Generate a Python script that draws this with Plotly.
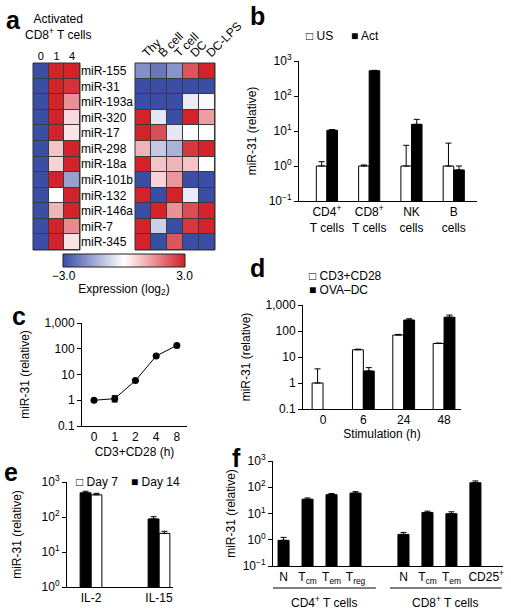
import numpy as np
import plotly.graph_objects as go

W, H = 511, 615
FONT = "Liberation Sans, Arial, Helvetica, sans-serif"


def px(x):
    return x / W


def py(y):
    return 1 - y / H


# ---------------- data ----------------
# panel a
mirnas = ["miR-155", "miR-31", "miR-193a", "miR-320", "miR-17", "miR-298",
          "miR-18a", "miR-101b", "miR-132", "miR-146a", "miR-7", "miR-345"]
act_times = ["0", "1", "4"]
cell_types = ["Thy", "B cell", "T cell", "DC", "DC-LPS"]
act_expr = [
    [-3, 3, 3],
    [-3, 3, 2.8],
    [-3, 3, 1.5],
    [-3, 3, 0.5],
    [-3, 3, 0.35],
    [-3, 0.8, 3],
    [-3, 0.6, 3],
    [-3, 3, -1.6],
    [-3, 0.0, 3],
    [-3, 1.0, 3],
    [-3, 3, 1.6],
    [-3, 3, 0.4],
]
cell_expr = [
    [-1.9, -2.3, -1.8, 2.3, 3],
    [-3, -3, -3, -3, -3],
    [-3, -3, -3, -0.3, -0.1],
    [3, -0.4, -3, 3, 1.3],
    [3, 2.4, -0.4, 0, 0],
    [1.0, -0.9, -1.3, 2.7, 3],
    [3, 0.8, 1.0, 0.8, 0],
    [-3, 0.6, 1.4, -3, -3],
    [3, -3, 3, -0.3, -3],
    [-3, 3, 1.5, 2.4, 3],
    [3, -0.8, -3, 2.7, 3],
    [3, -3, 2.3, -3, -3],
]

# panel b
b_cells = ["CD4<sup>+</sup><br>T cells", "CD8<sup>+</sup><br>T cells", "NK<br>cells", "B<br>cells"]
b_us = [1.0, 1.0, 1.0, 1.0]
b_us_err = [0.33, 0.07, 2.9, 3.5]
b_act = [10.5, 525, 15.5, 0.77]
b_act_err = [0.5, 15, 6, 0.23]

# panel c
c_hours = ["0", "1", "2", "4", "8"]
c_vals = [1.0, 1.15, 5.8, 52, 135]
c_err_plus = [0, 0.35, 0, 0, 0]
c_err_minus = [0, 0.3, 0, 0, 0]

# panel d
d_hours = ["0", "6", "24", "48"]
d_cd3 = [1.0, 19, 70, 33]
d_cd3_err = [2.5, 1.0, 4, 1.5]
d_ova = [None, 2.9, 265, 340]
d_ova_err = [0, 1.0, 30, 70]

# panel e
e_cyto = ["IL-2", "IL-15"]
e_day7 = [430, 34]
e_day7_err = [45, 5]
e_day14 = [490, 88]
e_day14_err = [55, 14]

# panel f
f_subsets = ["N", "T<sub>cm</sub>", "T<sub>em</sub>", "T<sub>reg</sub>",
             "N", "T<sub>cm</sub>", "T<sub>em</sub>", "CD25<sup>+</sup>"]
f_groups = ["CD4", "CD4", "CD4", "CD4", "CD8", "CD8", "CD8", "CD8"]
f_vals = [0.95, 35, 52, 60, 1.6, 11, 9.8, 148]
f_err = [0.28, 4, 6, 8, 0.3, 1.3, 1.8, 26]

log_ticks = [0.1, 1, 10, 100, 1000]
pow_text = ["10<sup>−1</sup>", "10<sup>0</sup>", "10<sup>1</sup>", "10<sup>2</sup>", "10<sup>3</sup>"]
dec_text = ["0.1", "1", "10", "100", "1,000"]

colorscale = [[0, "#3b4ea6"], [0.5, "#ffffff"], [1, "#d3222a"]]
WHITE_BAR = dict(color="white", line=dict(color="black", width=1))
BLACK_BAR = dict(color="black", line=dict(color="black", width=1))

fig = go.Figure()

# ---------------- panel a ----------------
fig.add_trace(go.Heatmap(z=act_expr, x=act_times, y=mirnas, colorscale=colorscale,
                         zmin=-3, zmax=3, showscale=False, xgap=1, ygap=1,
                         xaxis="x", yaxis="y", hoverinfo="skip"))
fig.add_trace(go.Heatmap(z=cell_expr, x=cell_types, y=mirnas, colorscale=colorscale,
                         zmin=-3, zmax=3, showscale=False, xgap=1, ygap=1,
                         xaxis="x2", yaxis="y2", hoverinfo="skip"))
grad = np.linspace(-3, 3, 121)
fig.add_trace(go.Heatmap(z=[grad], x=grad, y=[0], colorscale=colorscale, zmin=-3, zmax=3,
                         showscale=False, xaxis="x3", yaxis="y3", hoverinfo="skip"))

# ---------------- panel b ----------------
bx = list(range(len(b_cells)))
bw = 0.25
err = dict(type="data", symmetric=False, color="black", thickness=1, width=3)
fig.add_trace(go.Bar(x=bx, y=b_us, name="US", width=bw, offset=-bw, marker=WHITE_BAR,
                     error_y=dict(err, array=b_us_err, arrayminus=[0] * 4),
                     xaxis="x4", yaxis="y4"))
fig.add_trace(go.Bar(x=bx, y=b_act, name="Act", width=bw, offset=0, marker=BLACK_BAR,
                     error_y=dict(err, array=b_act_err, arrayminus=[0] * 4),
                     xaxis="x4", yaxis="y4"))

# ---------------- panel c ----------------
fig.add_trace(go.Scatter(x=list(range(len(c_hours))), y=c_vals, mode="lines+markers",
                         line=dict(color="black", width=1), marker=dict(color="black", size=7),
                         error_y=dict(type="data", symmetric=False, array=c_err_plus,
                                      arrayminus=c_err_minus, color="black", thickness=1, width=3),
                         xaxis="x5", yaxis="y5"))

# ---------------- panel d ----------------
dx = list(range(len(d_hours)))
dw = 0.27
fig.add_trace(go.Bar(x=dx, y=d_cd3, name="CD3+CD28", width=dw, offset=-dw, marker=WHITE_BAR,
                     error_y=dict(err, array=d_cd3_err, arrayminus=[0] * 4),
                     xaxis="x6", yaxis="y6"))
fig.add_trace(go.Bar(x=dx, y=d_ova, name="OVA–DC", width=dw, offset=0, marker=BLACK_BAR,
                     error_y=dict(err, array=d_ova_err, arrayminus=[0] * 4),
                     xaxis="x6", yaxis="y6"))

# ---------------- panel e ----------------
ex = list(range(len(e_cyto)))
ew = 0.16
fig.add_trace(go.Bar(x=ex, y=e_day7, name="Day 7", width=ew, offset=0, marker=WHITE_BAR,
                     error_y=dict(err, array=e_day7_err, arrayminus=[0] * 2),
                     xaxis="x7", yaxis="y7"))
fig.add_trace(go.Bar(x=ex, y=e_day14, name="Day 14", width=ew, offset=-ew, marker=BLACK_BAR,
                     error_y=dict(err, array=e_day14_err, arrayminus=[0] * 2),
                     xaxis="x7", yaxis="y7"))

# ---------------- panel f ----------------
group_order = ["CD4", "CD8"]
fx = [i + group_order.index(g) for i, g in enumerate(f_groups)]
fw = 0.46
fig.add_trace(go.Bar(x=fx, y=f_vals, width=fw, offset=-fw / 2, marker=BLACK_BAR,
                     error_y=dict(err, array=f_err, arrayminus=[0] * 8),
                     xaxis="x8", yaxis="y8"))
# the last label sits a little right of its bar in the original
f_tickpos = fx[:-1] + [fx[-1] + 0.45]

# ---------------- layout ----------------
tfont = dict(family=FONT, size=12, color="black")
base = dict(showgrid=False, zeroline=False, tickfont=tfont, color="black", automargin=False)
lined = dict(base, showline=True, linecolor="black", linewidth=1)
ylog = dict(lined, type="log", range=[-1, 3], ticks="outside", ticklen=4, tickwidth=1,
            tickcolor="black", tickvals=log_ticks)
ytitle = lambda s: dict(text="miR-31 (relative)", font=tfont, standoff=s)

fig.update_layout(
    width=W, height=H, margin=dict(l=0, r=0, t=0, b=0, autoexpand=False),
    paper_bgcolor="white", plot_bgcolor="white", font=tfont, barmode="overlay",
    showlegend=False,
    # heatmap left
    xaxis=dict(base, domain=[px(33), px(80)], side="top", ticks="", anchor="y",
               tickfont=dict(family=FONT, size=11, color="black")),
    yaxis=dict(base, domain=[py(250), py(63)], autorange="reversed", side="right",
               ticks="", anchor="x", ticklabelstandoff=0),
    # heatmap right
    xaxis2=dict(base, domain=[px(135), px(215)], side="top", ticks="", anchor="y2",
                tickangle=-45),
    yaxis2=dict(base, domain=[py(250), py(63)], autorange="reversed", anchor="x2",
                showticklabels=False, ticks=""),
    # color key
    xaxis3=dict(base, domain=[px(63), px(185)], anchor="y3", range=[-3.025, 3.025],
                tickvals=[-3, 3], ticktext=["−3.0", "3.0"], ticks="",
                title=dict(text="Expression (log<sub>2</sub>)", font=tfont, standoff=2)),
    yaxis3=dict(base, domain=[py(267), py(254)], anchor="x3", showticklabels=False, ticks=""),
    # b
    xaxis4=dict(lined, domain=[px(299), px(477)], anchor="y4", range=[-0.66, 3.55],
                tickvals=bx, ticktext=b_cells, ticks="", tickangle=0),
    yaxis4=dict(ylog, domain=[py(201), py(61)], anchor="x4", ticktext=pow_text,
                title=ytitle(9)),
    # c
    xaxis5=dict(lined, domain=[px(82), px(187)], anchor="y5", range=[-0.58, 4.49],
                tickvals=list(range(len(c_hours))), ticktext=c_hours, ticks="", tickangle=0,
                title=dict(text="CD3+CD28 (h)", font=tfont, standoff=4)),
    yaxis5=dict(ylog, domain=[py(426), py(323)], anchor="x5", ticktext=dec_text,
                title=ytitle(12)),
    # d
    xaxis6=dict(lined, domain=[px(303), px(461)], anchor="y6", range=[-0.496, 3.42],
                tickvals=dx, ticktext=d_hours, ticks="", tickangle=0,
                title=dict(text="Stimulation (h)", font=tfont, standoff=2)),
    yaxis6=dict(ylog, domain=[py(409), py(305)], anchor="x6", ticktext=dec_text,
                title=ytitle(12)),
    # e
    xaxis7=dict(lined, domain=[px(67), px(173)], anchor="y7", range=[-0.353, 1.206],
                tickvals=ex, ticktext=e_cyto, ticks="", tickangle=0),
    yaxis7=dict(ylog, domain=[py(587), py(482)], anchor="x7", range=[0, 3],
                ticktext=pow_text, title=ytitle(17)),
    # f
    xaxis8=dict(lined, domain=[px(273), px(503)], anchor="y8", range=[-0.44, 9.15],
                tickvals=f_tickpos, ticktext=f_subsets, ticks="", tickangle=0),
    yaxis8=dict(ylog, domain=[py(566), py(461)], anchor="x8", ticktext=pow_text,
                title=ytitle(4)),
)

shapes = []
for xr, yr in [("x", "y"), ("x2", "y2")]:
    shapes.append(dict(type="rect", xref=f"{xr} domain", yref=f"{yr} domain", x0=0, x1=1,
                       y0=0, y1=1, fillcolor="#3a3a3a", line=dict(width=0), layer="below"))
    shapes.append(dict(type="rect", xref=f"{xr} domain", yref=f"{yr} domain", x0=0, x1=1,
                       y0=0, y1=1, line=dict(color="#333333", width=1)))
shapes.append(dict(type="rect", xref="x3 domain", yref="y3 domain", x0=0, x1=1, y0=0, y1=1,
                   line=dict(color="#222222", width=1)))
# group underlines in f
for g, x0, x1 in [("CD4", -0.48, 3.85), ("CD8", 4.44, 9.1)]:
    shapes.append(dict(type="line", xref="x8", yref="paper", x0=x0, x1=x1,
                       y0=py(588), y1=py(588), line=dict(color="black", width=1)))
fig.update_layout(shapes=shapes)


def note(text, x, y, xanchor="left", xref="paper", font=None):
    return dict(text=text, x=x if xref != "paper" else px(x), y=py(y), xref=xref,
                yref="paper", xanchor=xanchor, yanchor="middle", showarrow=False,
                font=font or tfont)


ann = []
for letter, x, y in [("a", 4, 20), ("b", 248, 16), ("c", 10, 316), ("d", 248, 268),
                     ("e", 2, 472), ("f", 230, 458)]:
    ann.append(note(f"<b>{letter}</b>", x, y, font=dict(family=FONT, size=25, color="black")))
ann.append(note("Activated<br>CD8<sup>+</sup> T cells", 58, 27, xanchor="center"))
ann.append(note("CD4<sup>+</sup> T cells", 1.7, 602, xanchor="center", xref="x8"))
ann.append(note("CD8<sup>+</sup> T cells", 6.77, 602, xanchor="center", xref="x8"))
# legend keys (white = open square, black = filled square)
for name, sym, x, y in [("US", "□", 304, 36), ("Act", "■", 349, 36),
                        ("CD3+CD28", "□", 307, 276), ("OVA–DC", "■", 307, 290),
                        ("Day 7", "□", 74, 482), ("Day 14", "■", 129, 482)]:
    ann.append(note(f"{sym} {name}", x, y))
fig.update_layout(annotations=ann)

fig.write_html("out.html", config={"displayModeBar": False},
               post_script="document.body.style.margin='0px';")
